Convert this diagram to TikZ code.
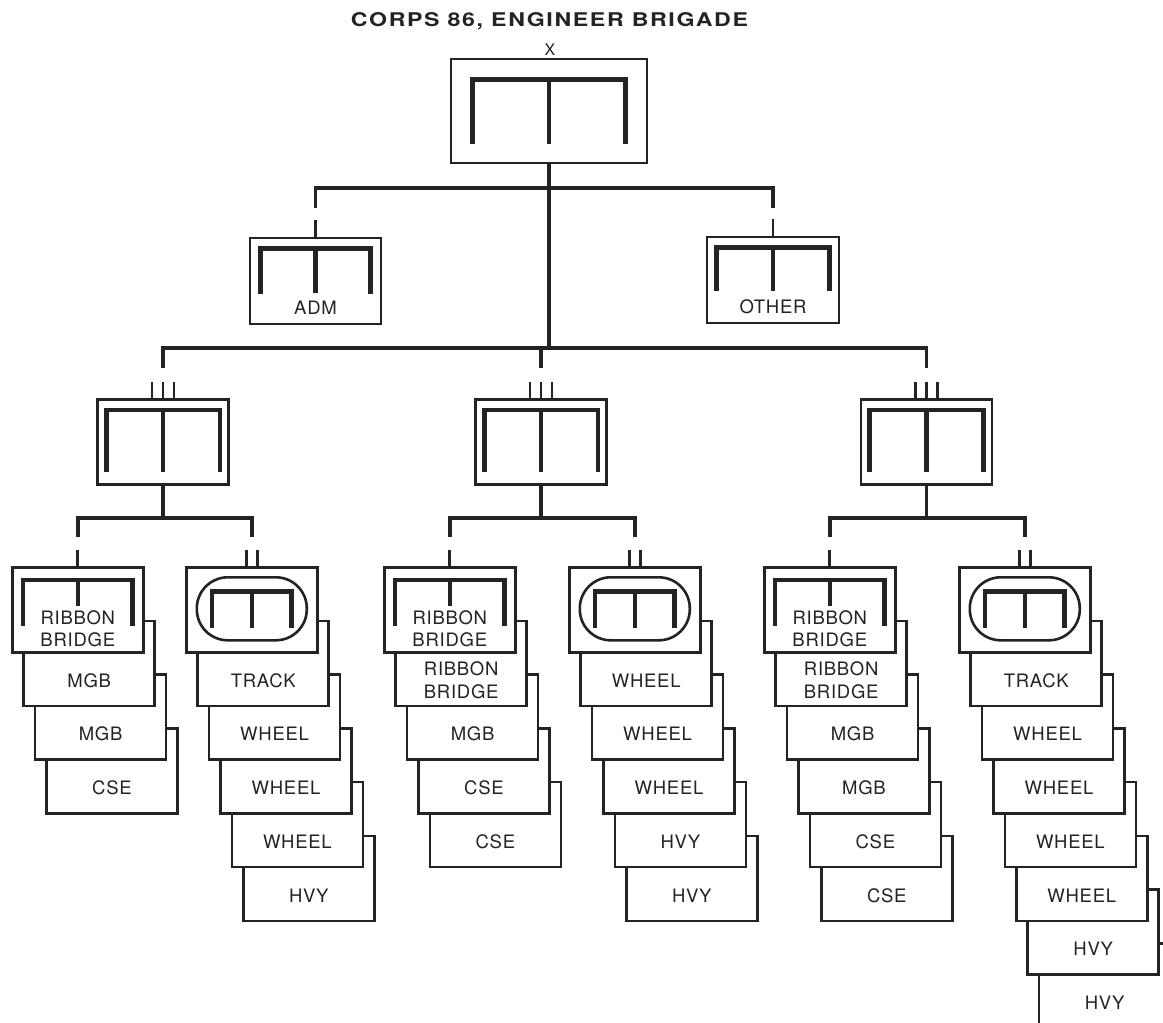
\documentclass[tikz,border=0pt]{standalone}
\usepackage{fontspec}
\setmainfont{TeX Gyre Heros}
\usepackage{graphicx}
\usetikzlibrary{calc}
\definecolor{ink}{RGB}{35,35,35}
\tikzset{
  box/.style={draw=ink, line width=2.6pt, fill=white, rectangle, inner sep=0pt,
    minimum width=131pt, minimum height=85pt, anchor=north west},
  conn/.style={draw=ink, line width=3.4pt, line cap=butt, line join=miter},
  ech/.style={draw=ink, line width=2.8pt},
  sym/.style={draw=ink, line width=4.6pt, line join=miter},
  lbl/.style={text=ink, font=\fontsize{18.5}{22.5}\selectfont\addfontfeature{LetterSpace=4}, align=center, inner sep=0pt},
  ovalbox/.style={draw=ink, line width=2.6pt, rectangle, rounded corners=31pt,
    minimum width=110pt, minimum height=63pt, inner sep=0pt}
}
% inner unit symbol: node, side inset, top inset, bottom inset (sides), bottom inset (middle)
\newcommand\xsym[5]{%
  \draw[sym] ($(#1.south west)+(#2,-#4)$) |- ($(#1.north)+(0,#3)$) -| ($(#1.south east)+(-#2,-#4)$);
  \draw[sym] ($(#1.north)+(0,#3)$) -- ($(#1.south)+(0,-#5)$);}
\begin{document}
\begin{tikzpicture}[x=1pt,y=-1pt]
\useasboundingbox (0,0) rectangle (1163,1023);

% title
\node[text=ink, inner sep=0pt] (title) at (549.5,21.5)
  {\resizebox{397pt}{14pt}{\bfseries\addfontfeature{LetterSpace=7}CORPS 86, ENGINEER BRIGADE}};
\node[lbl, font=\fontsize{16}{18}\selectfont] (xmark) at (550,49.5) {X};

% bus levels
\coordinate (busA) at (0,188);
\coordinate (dropA) at (0,208);
\coordinate (busB) at (0,348);
\coordinate (dropB) at (0,368);
\coordinate (busC) at (0,518);
\coordinate (dropC) at (0,537);

% brigade
\node[box, anchor=center, minimum width=196pt, minimum height=104pt] (brig) at (549,111) {};
\xsym{brig}{23}{22}{20}{20}

% ADM / OTHER
\node[box, anchor=center, minimum height=86pt] (adm) at (315.5,281) {};
\xsym{adm}{12}{12}{31}{32}
\node[lbl] (adm-l) at ($(adm.center)+(0,27)$) {ADM};
\node[box, anchor=center, minimum width=132pt, minimum height=86pt] (other) at (773,280) {};
\xsym{other}{11}{12}{33}{33}
\node[lbl] (other-l) at ($(other.center)+(0,27)$) {OTHER};

% battalions
\node[box, anchor=north] (bn1) at (163,398) {};
\node[box, anchor=north] (bn2) at (541,398) {};
\node[box, anchor=north] (bn3) at (926.5,398) {};
\foreach \b in {bn1,bn2,bn3}{\xsym{\b}{10}{12}{14}{14}}

% connectors: brigade level
\draw[conn] (brig.south) -- (brig.south |- busB);
\draw[conn] (adm.north |- dropA) |- (other.north |- busA) -- (other.north |- dropA);
\draw[ech] (adm.north) -- ++(0,-17);
\draw[ech] (other.north) -- ++(0,-17);

% connectors: battalion level
\draw[conn] (bn1.north |- dropB) |- (bn3.north |- busB) -- (bn3.north |- dropB);
\draw[conn] (bn2.north |- busB) -- (bn2.north |- dropB);
\foreach \b in {bn1,bn2,bn3}{
  \foreach \d in {-11,0,11}{\draw[ech] ($(\b.north)+(\d,0)$) -- ++(0,-16);}}

% ---------- group 1 ----------
\foreach \i/\t in {3/CSE,2/MGB,1/MGB}{
  \node[box] (g1a\i) at ({11+11.4*\i},{566+53.7*\i}) {};
  \node[lbl] (g1a\i-l) at ($(g1a\i.south)+(0,-26.85)$) {\t};}
\node[box] (g1a0) at (11,566) {};
\xsym{g1a0}{12}{14}{28}{48}
\node[lbl] (g1a0-l) at ($(g1a0.center)+(0,19)$) {RIBBON\\BRIDGE};

\foreach \i/\t in {5/HVY,4/WHEEL,3/WHEEL,2/WHEEL,1/TRACK}{
  \node[box] (g1b\i) at ({185+11.4*\i},{566+53.7*\i}) {};
  \node[lbl] (g1b\i-l) at ($(g1b\i.south)+(0,-26.85)$) {\t};}
\node[box] (g1b0) at (185,566) {};
\node[ovalbox] (g1b0-o) at ($(g1b0.center)+(0,-1)$) {};
\xsym{g1b0}{27}{25.5}{26}{26}

\draw[conn] (bn1.south) -- (bn1.south |- busC);
\draw[conn] (g1a0.north |- dropC) |- (g1b0.north |- busC) -- (g1b0.north |- dropC);

% ---------- group 2 ----------
\foreach \i/\t in {4/CSE,3/CSE,2/MGB,1/{RIBBON\\BRIDGE}}{
  \node[box] (g2a\i) at ({383+11.4*\i},{566+53.7*\i}) {};
  \node[lbl] (g2a\i-l) at ($(g2a\i.south)+(0,-26.85)$) {\t};}
\node[box] (g2a0) at (383,566) {};
\xsym{g2a0}{12}{14}{28}{48}
\node[lbl] (g2a0-l) at ($(g2a0.center)+(0,19)$) {RIBBON\\BRIDGE};

\foreach \i/\t in {5/HVY,4/HVY,3/WHEEL,2/WHEEL,1/WHEEL}{
  \node[box] (g2b\i) at ({568+11.4*\i},{566+53.7*\i}) {};
  \node[lbl] (g2b\i-l) at ($(g2b\i.south)+(0,-26.85)$) {\t};}
\node[box] (g2b0) at (568,566) {};
\node[ovalbox] (g2b0-o) at ($(g2b0.center)+(0,-1)$) {};
\xsym{g2b0}{27}{25.5}{26}{26}

\draw[conn] (bn2.south) -- (bn2.south |- busC);
\draw[conn] (g2a0.north |- dropC) |- (g2b0.north |- busC) -- (g2b0.north |- dropC);

% ---------- group 3 ----------
\foreach \i/\t in {5/CSE,4/CSE,3/MGB,2/MGB,1/{RIBBON\\BRIDGE}}{
  \node[box] (g3a\i) at ({763+11.4*\i},{566+53.7*\i}) {};
  \node[lbl] (g3a\i-l) at ($(g3a\i.south)+(0,-26.85)$) {\t};}
\node[box] (g3a0) at (763,566) {};
\xsym{g3a0}{12}{14}{28}{48}
\node[lbl] (g3a0-l) at ($(g3a0.center)+(0,19)$) {RIBBON\\BRIDGE};

\foreach \i/\t in {7/HVY,6/HVY,5/WHEEL,4/WHEEL,3/WHEEL,2/WHEEL,1/TRACK}{
  \node[box] (g3b\i) at ({958+11.4*\i},{566+53.7*\i}) {};
  \node[lbl] (g3b\i-l) at ($(g3b\i.south)+(0,-26.85)$) {\t};}
\node[box] (g3b0) at (958,566) {};
\node[ovalbox] (g3b0-o) at ($(g3b0.center)+(0,-1)$) {};
\xsym{g3b0}{27}{25.5}{26}{26}

\draw[conn] (bn3.south) -- (bn3.south |- busC);
\draw[conn] (g3a0.north |- dropC) |- (g3b0.north |- busC) -- (g3b0.north |- dropC);

% echelon marks on companies
\foreach \g in {g1a0,g2a0,g3a0}{\draw[ech] (\g.north) -- ++(0,-16);}
\foreach \g in {g1b0,g2b0,g3b0}{
  \foreach \d in {-5.5,5.5}{\draw[ech] ($(\g.north)+(\d,0)$) -- ++(0,-16);}}
\end{tikzpicture}
\end{document}
